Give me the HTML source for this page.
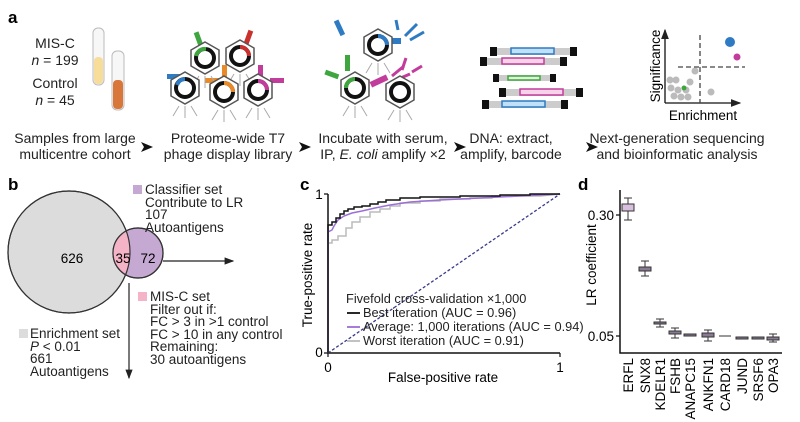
<!DOCTYPE html>
<html><head><meta charset="utf-8"><style>
body{margin:0;background:#fff}
svg{display:block;font-family:"Liberation Sans",Arial,sans-serif}
</style></head><body>
<svg width="800" height="422" viewBox="0 0 800 422" xmlns="http://www.w3.org/2000/svg">
<defs>
<marker id="ah" markerWidth="8" markerHeight="8" refX="7" refY="4" orient="auto"><path d="M0,1 L8,4 L0,7 Z" fill="#222"/></marker>
<g id="phage">
 <polygon points="0,-16 14,-8 14,8 0,16 -14,8 -14,-8" fill="#fff" stroke="#555" stroke-width="1.5"/>
 <circle r="9" fill="none" stroke="#111" stroke-width="4"/>
 <path d="M-6,18 L-12,28 M0,18 L0,30 M6,18 L12,28" stroke="#aaa" stroke-width="1"/>
</g>
</defs>
<!-- panel a -->
<text x="8" y="23" font-size="17" font-weight="bold">a</text>
<g font-size="14" text-anchor="middle" fill="#222">
<text x="55" y="48">MIS-C</text>
<text x="55" y="65"><tspan font-style="italic">n</tspan> = 199</text>
<text x="55" y="88">Control</text>
<text x="55" y="105"><tspan font-style="italic">n</tspan> = 45</text>
</g>
<rect x="93" y="28" width="11" height="57" rx="5" fill="#f7f7f7" stroke="#bbb"/>
<rect x="94" y="57" width="9" height="27" rx="4" fill="#f8dd9a"/>
<rect x="112" y="51" width="12" height="59" rx="5" fill="#f7f7f7" stroke="#bbb"/>
<rect x="113" y="80" width="10" height="29" rx="4" fill="#d9773a"/>
<!-- phage library -->
<g>
 <rect x="196" y="32" width="5" height="14" fill="#3fa63f" transform="rotate(-20 198 39)"/>
 <rect x="246" y="30" width="5" height="14" fill="#c8312e" transform="rotate(20 248 37)"/>
 <rect x="167" y="74" width="14" height="5" fill="#2e7bc4"/>
 <rect x="222" y="65" width="5" height="14" fill="#e88a2a"/>
 <rect x="258" y="65" width="5" height="14" fill="#c23c9b"/>
 <rect x="270" y="78" width="14" height="5" fill="#c23c9b"/>
 <rect x="205" y="78" width="14" height="5" fill="#e88a2a"/>
 <use href="#phage" x="205" y="58"/>
 <use href="#phage" x="240" y="56"/>
 <use href="#phage" x="185" y="88"/>
 <use href="#phage" x="224" y="92"/>
 <use href="#phage" x="258" y="90"/>
 <path d="M196,56 a9,9 0 0 1 10,-7" stroke="#3fa63f" stroke-width="4" fill="none"/>
 <path d="M240,47 a9,9 0 0 1 9,9" stroke="#c8312e" stroke-width="4" fill="none"/>
 <path d="M177,85 a9,9 0 0 1 8,-6" stroke="#2e7bc4" stroke-width="4" fill="none"/>
 <path d="M224,83 a9,9 0 0 1 9,9" stroke="#e88a2a" stroke-width="4" fill="none"/>
 <path d="M258,81 a9,9 0 0 1 9,9" stroke="#c23c9b" stroke-width="4" fill="none"/>
</g>
<!-- incubate -->
<g>
 <rect x="337" y="20" width="5" height="16" fill="#2e7bc4" transform="rotate(-25 339 28)"/>
 <rect x="385" y="38" width="16" height="6" fill="#2e7bc4"/>
 <path d="M405,36 l12,-12 M410,40 l14,-8 M398,30 l-2,-10" stroke="#2e7bc4" stroke-width="3" fill="none"/>
 <rect x="345" y="55" width="5" height="16" fill="#3fa63f"/>
 <rect x="325" y="72" width="14" height="5" fill="#3fa63f" transform="rotate(20 332 74)"/>
 <rect x="370" y="78" width="18" height="6" fill="#c23c9b" transform="rotate(-25 379 81)"/>
 <path d="M392,76 l12,-10 M396,80 l14,-6 M402,70 l4,-12 M412,72 l10,-6" stroke="#c23c9b" stroke-width="3" fill="none"/>
 <use href="#phage" x="378" y="45"/>
 <use href="#phage" x="355" y="88"/>
 <use href="#phage" x="400" y="92"/>
 <path d="M378,36 a9,9 0 0 1 9,9" stroke="#2e7bc4" stroke-width="4" fill="none"/>
 <path d="M346,88 a9,9 0 0 1 9,-9" stroke="#3fa63f" stroke-width="4" fill="none"/>
</g>
<!-- DNA -->
<g stroke-width="1.5">
 <rect x="492" y="48" width="82" height="7" fill="#ccc" stroke="none"/><rect x="490" y="47" width="7" height="9" fill="#111"/><rect x="570" y="47" width="7" height="9" fill="#111"/><rect x="511" y="48" width="43" height="6" fill="#bfe0f7" stroke="#2e7bc4"/>
 <rect x="482" y="58" width="82" height="7" fill="#ccc" stroke="none"/><rect x="480" y="57" width="7" height="9" fill="#111"/><rect x="560" y="57" width="7" height="9" fill="#111"/><rect x="502" y="58" width="42" height="6" fill="#f7d3ea" stroke="#c23c9b"/>
 <rect x="495" y="75" width="58" height="6" fill="#ccc" stroke="none"/><rect x="493" y="74" width="6" height="8" fill="#111"/><rect x="550" y="74" width="6" height="8" fill="#111"/><rect x="508" y="76" width="32" height="4" fill="#dff2d8" stroke="#3fa63f"/>
 <rect x="501" y="89" width="82" height="7" fill="#ccc" stroke="none"/><rect x="499" y="88" width="7" height="9" fill="#111"/><rect x="576" y="88" width="7" height="9" fill="#111"/><rect x="520" y="89" width="43" height="6" fill="#f7d3ea" stroke="#c23c9b"/>
 <rect x="484" y="101" width="82" height="7" fill="#ccc" stroke="none"/><rect x="482" y="100" width="7" height="9" fill="#111"/><rect x="561" y="100" width="7" height="9" fill="#111"/><rect x="502" y="101" width="43" height="6" fill="#bfe0f7" stroke="#2e7bc4"/>
</g>
<!-- scatter icon -->
<g>
 <path d="M665,103 L665,30" stroke="#111" stroke-width="1.3" marker-end="url(#ah)"/>
 <path d="M665,103 L740,103" stroke="#111" stroke-width="1.3" marker-end="url(#ah)"/>
 <path d="M700,35 V103 M678,67 H745" stroke="#444" stroke-width="1.3" stroke-dasharray="5,3"/>
 <g fill="#bbb"><circle cx="695" cy="71" r="3.5"/><circle cx="670" cy="80" r="3.5"/><circle cx="676" cy="80" r="3.5"/><circle cx="671" cy="88" r="3.5"/><circle cx="678" cy="90" r="3.5"/><circle cx="686" cy="90" r="3.5"/><circle cx="674" cy="96" r="3.5"/><circle cx="681" cy="97" r="3.5"/><circle cx="688" cy="97" r="3.5"/><circle cx="690" cy="82" r="3.5"/><circle cx="711" cy="92" r="3.5"/></g>
 <circle cx="684" cy="88" r="2.5" fill="#3fa63f"/>
 <circle cx="730" cy="42" r="5" fill="#2e7bc4"/>
 <circle cx="737" cy="57" r="3.5" fill="#c23c9b"/>
 <text x="656" y="66" font-size="13.5" text-anchor="middle" transform="rotate(-90 656 66)" dy="4">Significance</text>
 <text x="703" y="120" font-size="13.5" text-anchor="middle">Enrichment</text>
</g>
<g font-size="14" text-anchor="middle" fill="#222">
<text x="75" y="143">Samples from large</text><text x="75" y="159">multicentre cohort</text>
<text x="228" y="143">Proteome-wide T7</text><text x="228" y="159">phage display library</text>
<text x="383" y="143">Incubate with serum,</text><text x="383" y="159">IP, <tspan font-style="italic">E. coli</tspan> amplify ×2</text>
<text x="511" y="143">DNA: extract,</text><text x="511" y="159">amplify, barcode</text>
<text x="677" y="143">Next-generation sequencing</text><text x="677" y="159">and bioinformatic analysis</text>
</g>
<g fill="#111"><path d="M141,142 l12,5 -12,5 3,-5z"/><path d="M299,142 l12,5 -12,5 3,-5z"/><path d="M454,142 l12,5 -12,5 3,-5z"/><path d="M586,142 l12,5 -12,5 3,-5z"/></g>
<!-- panel b -->
<text x="8" y="190" font-size="17" font-weight="bold">b</text>
<circle cx="69" cy="252" r="61" fill="#dcdcdc" stroke="#333" stroke-width="1.2"/>
<circle cx="138" cy="253" r="25" fill="#c6a9d3" stroke="#333" stroke-width="1.2"/>
<clipPath id="cb"><circle cx="69" cy="252" r="61"/></clipPath>
<circle cx="138" cy="253" r="25" fill="#f4b3c6" clip-path="url(#cb)"/>
<circle cx="69" cy="252" r="61" fill="none" stroke="#333" stroke-width="1.2"/>
<circle cx="138" cy="253" r="25" fill="none" stroke="#333" stroke-width="1.2"/>
<g font-size="13.5" text-anchor="middle"><text x="72" y="263">626</text><text x="123" y="263">35</text><text x="148" y="263">72</text></g>
<path d="M163,261 H233" stroke="#222" stroke-width="1.2" marker-end="url(#ah)"/>
<path d="M129,283 V378" stroke="#222" stroke-width="1.2" marker-end="url(#ah)"/>
<g font-size="13.5" fill="#222">
<rect x="133" y="185" width="9" height="9" fill="#c6a9d3"/>
<text x="145" y="194">Classifier set</text><text x="145" y="207">Contribute to LR</text><text x="145" y="219">107</text><text x="145" y="232">Autoantigens</text>
<rect x="138" y="292" width="9" height="9" fill="#f4b3c6"/>
<text x="150" y="301">MIS-C set</text><text x="150" y="314">Filter out if:</text><text x="150" y="326">FC &gt; 3 in &gt;1 control</text><text x="150" y="339">FC &gt; 10 in any control</text><text x="150" y="351">Remaining:</text><text x="150" y="364">30 autoantigens</text>
<rect x="19" y="329" width="9" height="9" fill="#dcdcdc"/>
<text x="30" y="338">Enrichment set</text><text x="30" y="351"><tspan font-style="italic">P</tspan> &lt; 0.01</text><text x="30" y="363">661</text><text x="30" y="376">Autoantigens</text>
</g>
<!-- panel c -->
<text x="300" y="190" font-size="17" font-weight="bold">c</text>
<path d="M328,194 V353 H560" stroke="#111" stroke-width="1.5" fill="none"/>
<path d="M328,194 h-4 M328,353 h-4 M328,353 v4 M560,353 v4" stroke="#111" stroke-width="1.2"/>
<g font-size="13.5" text-anchor="middle"><text x="319" y="199">1</text><text x="319" y="357">0</text><text x="328" y="372">0</text><text x="560" y="372">1</text>
<text x="443" y="382">False-positive rate</text>
<text x="308" y="275" transform="rotate(-90 308 275)" dy="4">True-positive rate</text></g>
<path d="M328,353 L560,194" stroke="#3a3a8c" stroke-width="1.3" stroke-dasharray="3,2"/>
<polyline fill="none" stroke="#bbb" stroke-width="1.5" points="328,353 328,243 332,243 332,240 338,240 338,236 346,236 346,228 352,228 352,222 360,222 360,217 370,217 370,212 380,212 380,209 390,209 390,206 400,206 400,203 420,203 420,201 440,201 440,199 470,199 470,198 492,198 492,196 540,196 560,194"/>
<polyline fill="none" stroke="#9b6fd6" stroke-width="1.5" points="328,353 328,232 332,230 334,226 338,220 344,216 352,213 362,211 375,208 390,205 410,202 440,200 480,198 520,196 560,194"/>
<polyline fill="none" stroke="#111" stroke-width="1.5" points="328,353 328,225 332,225 332,222 336,222 336,218 340,218 340,214 344,214 344,211 348,211 348,209 354,209 354,207 362,207 362,206 370,206 370,204 378,204 378,202 386,202 386,200 400,200 400,198 420,198 420,197 460,197 460,196 500,196 500,195 530,195 530,194 560,194"/>
<g font-size="12.8" fill="#222">
<text x="346" y="303">Fivefold cross-validation ×1,000</text>
<path d="M347,313 H360" stroke="#111" stroke-width="1.8"/><text x="363" y="317">Best iteration (AUC = 0.96)</text>
<path d="M347,327 H360" stroke="#9b6fd6" stroke-width="1.8"/><text x="363" y="331">Average: 1,000 iterations  (AUC = 0.94)</text>
<path d="M347,341 H360" stroke="#bbb" stroke-width="1.8"/><text x="363" y="345">Worst iteration (AUC = 0.91)</text>
</g>
<!-- panel d -->
<text x="578" y="190" font-size="17" font-weight="bold">d</text>
<path d="M620,190 V353 H782" stroke="#111" stroke-width="1.5" fill="none"/>
<path d="M620,215 h-4 M620,336 h-4" stroke="#111" stroke-width="1.2"/>
<g font-size="13.5" text-anchor="end"><text x="614" y="220">0.30</text><text x="614" y="341">0.05</text></g>
<text x="592" y="265" font-size="13.5" text-anchor="middle" transform="rotate(-90 592 265)" dy="4">LR coefficient</text>
<g stroke="#333" stroke-width="1">
<path d="M628,198 V220 M624,198 h8 M624,220 h8"/><rect x="622" y="204" width="12" height="7" fill="#d8bfe0"/>
<path d="M645,261 V276 M641,261 h8 M641,276 h8"/><rect x="639" y="267" width="12" height="4" fill="#8a7a93"/>
<path d="M660,319 V327 M656,319 h8 M656,327 h8"/><rect x="654" y="322" width="12" height="2" fill="#8a7a93"/>
<path d="M675,328 V338 M671,328 h8 M671,338 h8"/><rect x="669" y="331" width="12" height="3" fill="#8a7a93"/>
<rect x="684" y="334" width="12" height="2" fill="#8a7a93"/>
<path d="M708,330 V341 M704,330 h8 M704,341 h8"/><rect x="702" y="333" width="12" height="4" fill="#8a7a93"/>
<path d="M719,336 h12"/>
<rect x="736" y="337" width="12" height="2" fill="#8a7a93"/>
<rect x="752" y="337" width="12" height="2" fill="#8a7a93"/>
<path d="M773,334 V342 M769,334 h8 M769,342 h8"/><rect x="767" y="337" width="12" height="3" fill="#8a7a93"/>
</g>
<g font-size="13.5" text-anchor="end">
<text transform="translate(633,358) rotate(-90)">ERFL</text>
<text transform="translate(650,358) rotate(-90)">SNX8</text>
<text transform="translate(665,358) rotate(-90)">KDELR1</text>
<text transform="translate(680,358) rotate(-90)">FSHB</text>
<text transform="translate(695,358) rotate(-90)">ANAPC15</text>
<text transform="translate(713,358) rotate(-90)">ANKFN1</text>
<text transform="translate(730,358) rotate(-90)">CARD18</text>
<text transform="translate(747,358) rotate(-90)">JUND</text>
<text transform="translate(763,358) rotate(-90)">SRSF6</text>
<text transform="translate(778,358) rotate(-90)">OPA3</text>
</g>
</svg>
</body></html>
